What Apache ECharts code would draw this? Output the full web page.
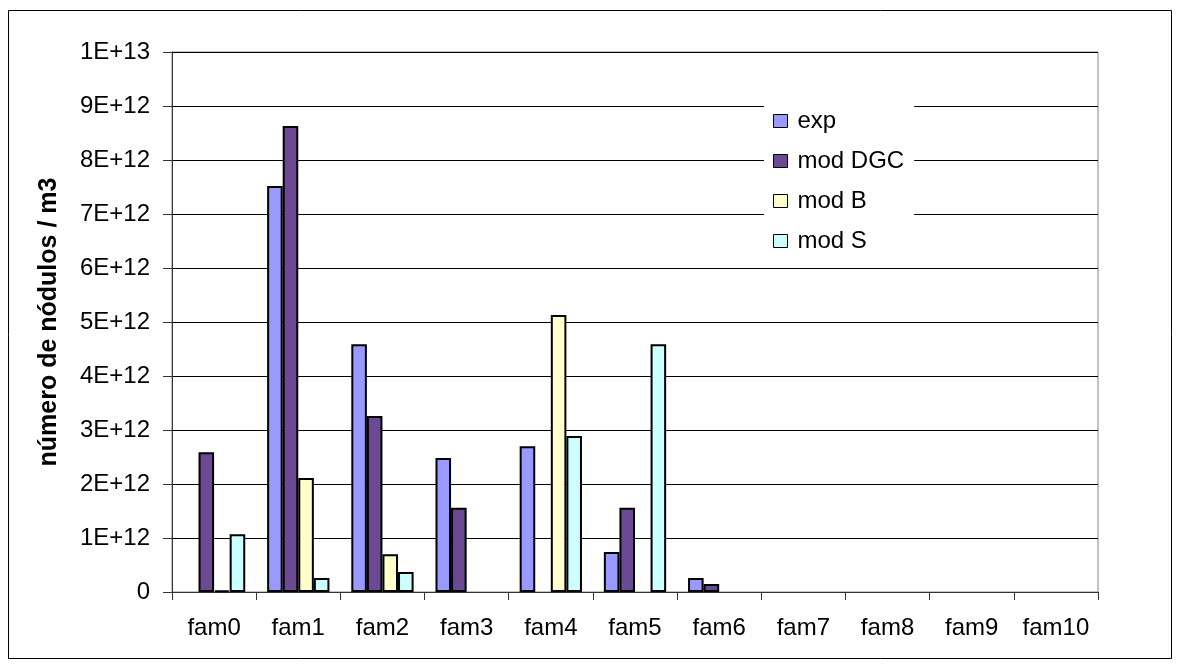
<!DOCTYPE html>
<html>
<head>
<meta charset="utf-8">
<script src="https://cdn.jsdelivr.net/npm/echarts@6/dist/echarts.min.js"></script>
<style>
  html, body { margin: 0; padding: 0; background: #fff; }
  #chart { width: 1182px; height: 668px; }
</style>
</head>
<body>
<div id="chart"></div>
<script>
// categories and series values (número de nódulos / m3)
const categories = ['fam0', 'fam1', 'fam2', 'fam3', 'fam4', 'fam5', 'fam6', 'fam7', 'fam8', 'fam9', 'fam10']
const expValues = [0, 7.52e12, 4.59e12, 2.48e12, 2.70e12, 0.74e12, 0.26e12, 0, 0, 0, 0]
const dgcValues = [2.59e12, 8.63e12, 3.26e12, 1.56e12, 0, 1.56e12, 0.15e12, 0, 0, 0, 0]
const bValues = [0.03e12, 2.11e12, 0.70e12, 0, 5.13e12, 0, 0, 0, 0, 0, 0]
const sValues = [1.07e12, 0.26e12, 0.37e12, 0, 2.89e12, 4.59e12, 0, 0, 0, 0, 0]

const font = 'Liberation Sans, Arial, sans-serif'

const chart = echarts.init(document.getElementById('chart'))

function bar(name, data, color) {
  return {
    name: name,
    type: 'bar',
    // zero bars would only draw their border on the axis, so leave them empty
    data: data.map(v => (v === 0 ? '-' : v)),
    barGap: '0%',
    barCategoryGap: '26%',
    itemStyle: { color: color, borderColor: '#000', borderWidth: 2 }
  }
}

let option = {
  backgroundColor: '#fff',
  animation: false,
  textStyle: { fontFamily: font },
  graphic: [
    {
      type: 'rect',
      shape: { x: 8.5, y: 10.5, width: 1163, height: 648 },
      style: { fill: null, stroke: '#000', lineWidth: 1 },
      silent: true
    }
  ],
  grid: {
    left: 172,
    right: 84,
    top: 52,
    bottom: 76,
    show: true,
    borderColor: '#888',
    borderWidth: 1
  },
  legend: {
    orient: 'vertical',
    left: 764,
    top: 99,
    backgroundColor: '#fff',
    padding: [10, 10, 10, 9],
    itemWidth: 14,
    itemHeight: 13,
    itemGap: 16,
    icon: 'rect',
    itemStyle: { borderColor: '#000', borderWidth: 1 },
    textStyle: { fontSize: 24, color: '#000', fontFamily: font, padding: [0, 0, 0, 5] },
    data: ['exp', 'mod DGC', 'mod B', 'mod S']
  },
  xAxis: {
    type: 'category',
    data: categories,
    axisLine: { lineStyle: { color: '#333', width: 1 } },
    axisTick: { show: true, length: 8, lineStyle: { color: '#333' } },
    axisLabel: { color: '#000', fontSize: 24, margin: 24, fontFamily: font, interval: 0, hideOverlap: false }
  },
  yAxis: {
    type: 'value',
    min: 0,
    max: 1e13,
    interval: 1e12,
    name: 'número de nódulos / m3',
    nameLocation: 'middle',
    nameGap: 110,
    nameMoveOverlap: false,
    nameTextStyle: { fontSize: 25, fontWeight: 'bold', color: '#000', fontFamily: font },
    axisLine: { show: true, lineStyle: { color: '#333', width: 1 } },
    axisTick: { show: true, length: 9, lineStyle: { color: '#333' } },
    axisLabel: {
      color: '#000',
      fontSize: 24,
      margin: 22,
      fontFamily: font,
      formatter: function(v) {
        if (v === 0) return '0'
        return v.toExponential(0).toUpperCase()
      }
    },
    splitLine: { lineStyle: { color: '#000', width: 1 } }
  },
  series: [
    bar('exp', expValues, '#9999FF'),
    bar('mod DGC', dgcValues, '#6B4993'),
    bar('mod B', bValues, '#FFFFCC'),
    bar('mod S', sValues, '#CCFFFF')
  ]
}
chart.setOption(option)
</script>
</body>
</html>
